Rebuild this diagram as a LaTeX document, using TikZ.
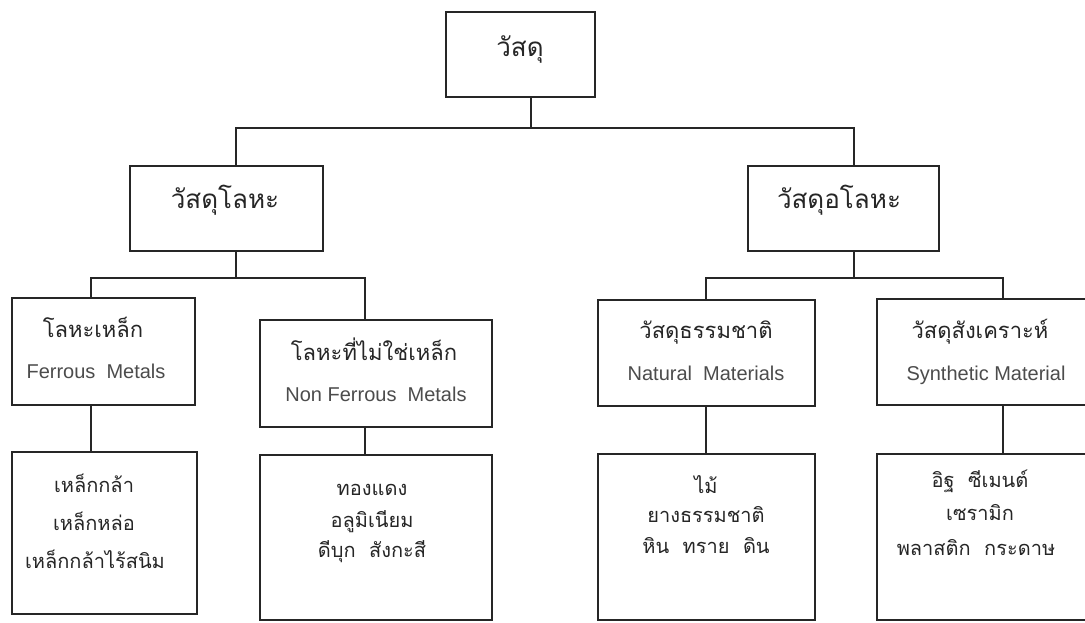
\documentclass[tikz,border=0pt]{standalone}
\usepackage{fontspec}
\setmainfont{Liberation Sans}
\newfontfamily\thaifont[Script=Thai]{Loma}
\begin{document}
\begin{tikzpicture}[x=1pt,y=-1pt,
  box/.style={draw=black!85, line width=1.3pt, rectangle, inner sep=0pt},
  conn/.style={draw=black!85, line width=1.8pt},
  thA/.style={font=\thaifont\fontsize{26}{30}\selectfont, text=black!85, anchor=base, inner sep=0pt},
  thB/.style={font=\thaifont\fontsize{22}{26}\selectfont, text=black!85, anchor=base, inner sep=0pt},
  thC/.style={font=\thaifont\fontsize{20}{24}\selectfont, text=black!85, anchor=base, inner sep=0pt},
  en/.style={font=\fontsize{20}{24}\selectfont, text=black!70, anchor=base, inner sep=0pt}]
\useasboundingbox (0,0) rectangle (1085,623);
\clip (0,0) rectangle (1085,623);
\fill[white] (0,0) rectangle (1085,623);
% boxes
\node[box, minimum width=149, minimum height=85] (top) at (520.5,54.5) {};
\node[box, minimum width=193, minimum height=85] (lm) at (226.5,208.5) {};
\node[box, minimum width=191, minimum height=85] (rm) at (843.5,208.5) {};
\node[box, minimum width=183, minimum height=107] (fe) at (103.5,351.5) {};
\node[box, minimum width=232, minimum height=107] (nf) at (376,373.5) {};
\node[box, minimum width=217, minimum height=106] (na) at (706.5,353) {};
\node[box, minimum width=233, minimum height=106] (sy) at (993.5,352) {};
\node[box, minimum width=185, minimum height=162] (fe2) at (104.5,533) {};
\node[box, minimum width=232, minimum height=165] (nf2) at (376,537.5) {};
\node[box, minimum width=217, minimum height=166] (na2) at (706.5,537) {};
\node[box, minimum width=233, minimum height=166] (sy2) at (993.5,537) {};
% junction points
\coordinate (j0) at (531,128);
\coordinate (j1) at (236,278);
\coordinate (j2) at (854,278);
\coordinate (cfe) at (91,278);
\coordinate (cnf) at (365,278);
\coordinate (cna) at (706,278);
\coordinate (csy) at (1003,278);
% connectors
\draw[conn] (top.south -| j0) -- (j0);
\draw[conn] (lm.north -| j1) |- (j0) -| (rm.north -| j2);
\draw[conn] (lm.south -| j1) -- (j1);
\draw[conn] (rm.south -| j2) -- (j2);
\draw[conn] (fe.north -| cfe) -- (cfe) -- (cnf) -- (nf.north -| cnf);
\draw[conn] (na.north -| cna) -- (cna) -- (csy) -- (sy.north -| csy);
\draw[conn] (fe.south -| cfe) -- (fe2.north -| cfe);
\draw[conn] (nf.south -| cnf) -- (nf2.north -| cnf);
\draw[conn] (na.south -| cna) -- (na2.north -| cna);
\draw[conn] (sy.south -| csy) -- (sy2.north -| csy);
% texts
\node[thA] (t-top) at (520,57) {วัสดุ};
\node[thA] (t-lm) at (225,208) {วัสดุโลหะ};
\node[thA] (t-rm) at (839,208) {วัสดุอโลหะ};
\node[thB] (t-fe) at (93,337) {โลหะเหล็ก};
\node[en] (e-fe) at (96,378) {Ferrous\ \ Metals};
\node[thB] (t-nf) at (374,360) {โลหะที่ไม่ใช่เหล็ก};
\node[en] (e-nf) at (376,401) {Non Ferrous\ \ Metals};
\node[thB] (t-na) at (706,338) {วัสดุธรรมชาติ};
\node[en] (e-na) at (706,380) {Natural\ \ Materials};
\node[thB] (t-sy) at (980,338) {วัสดุสังเคราะห์};
\node[en] (e-sy) at (986,380) {Synthetic Material};
\node[thC] (a1) at (94,492) {เหล็กกล้า};
\node[thC] (a2) at (94,530) {เหล็กหล่อ};
\node[thC] (a3) at (95,568) {เหล็กกล้าไร้สนิม};
\node[thC] (b1) at (372,495) {ทองแดง};
\node[thC] (b2) at (372,527) {อลูมิเนียม};
\node[thC] (b3) at (372,557) {ดีบุก\ \ สังกะสี};
\node[thC] (c1) at (706,493) {ไม้};
\node[thC] (c2) at (706,522) {ยางธรรมชาติ};
\node[thC] (c3) at (706,553) {หิน\ \ ทราย\ \ ดิน};
\node[thC] (d1) at (980,487) {อิฐ\ \ ซีเมนต์};
\node[thC] (d2) at (980,520) {เซรามิก};
\node[thC] (d3) at (976,555) {พลาสติก\ \ กระดาษ};
\end{tikzpicture}
\end{document}
